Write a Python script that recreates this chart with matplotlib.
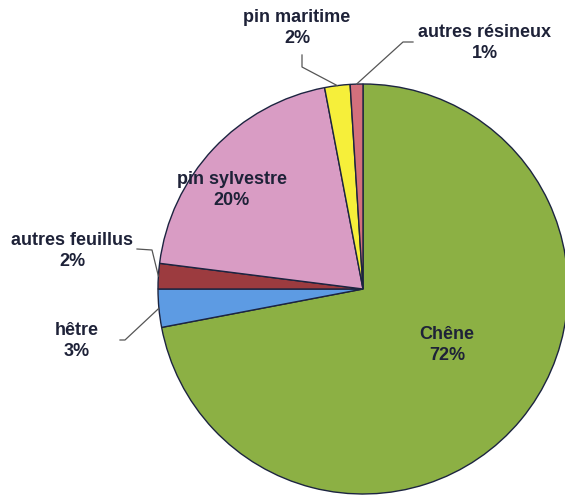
import matplotlib.pyplot as plt
import numpy as np

labels = ["Chêne", "hêtre", "autres feuillus", "pin sylvestre", "pin maritime", "autres résineux"]
values = [72, 3, 2, 20, 2, 1]
colors = ["#8cb044", "#5d9be3", "#9c3b3f", "#d99cc4", "#f6ef3a", "#d3707c"]

W, H = 565, 498
cx, cy, r = 363, 289, 205  # pie centre and radius in pixels

fig = plt.figure(figsize=(W / 100, H / 100), dpi=100)
ax = fig.add_axes([(cx - r) / W, (H - cy - r) / H, 2 * r / W, 2 * r / H])

wedges, _ = ax.pie(values, colors=colors, startangle=90, counterclock=False,
                   radius=1, wedgeprops=dict(edgecolor="#1c2440", linewidth=1.0))
for w in wedges:
    w.set_clip_on(False)
ax.set_xlim(-1, 1)
ax.set_ylim(-1, 1)
ax.set_aspect("equal")
ax.axis("off")

font = dict(family="Liberation Sans", fontweight="bold", fontsize=13,
            color="#1e2238", ha="center", va="center", linespacing=1.25)


def to_data(px, py):
    return (px - cx) / r, (cy - py) / r


# label positions (pixels) and leader line start/elbow points
label_pos = {
    "Chêne": (447, 345),
    "pin sylvestre": (232, 190),
    "pin maritime": (297, 28),
    "autres résineux": (485, 43),
    "autres feuillus": (72, 251),
    "hêtre": (77, 341),
}
leaders = {
    "pin maritime": [(302, 55), (302, 67)],
    "autres résineux": [(413, 42), (403, 42)],
    "autres feuillus": [(137, 249), (152, 250)],
    "hêtre": [(120, 340), (125, 340)],
}

for w, lab, val in zip(wedges, labels, values):
    x, y = to_data(*label_pos[lab])
    ax.text(x, y, f"{lab}\n{val}%", **font)
    if lab in leaders:
        mid = np.deg2rad((w.theta1 + w.theta2) / 2)
        pts = [to_data(*p) for p in leaders[lab]] + [(np.cos(mid), np.sin(mid))]
        xs, ys = zip(*pts)
        ax.plot(xs, ys, color="#555555", lw=0.9, clip_on=False)

fig.savefig("out.png", dpi=100)
